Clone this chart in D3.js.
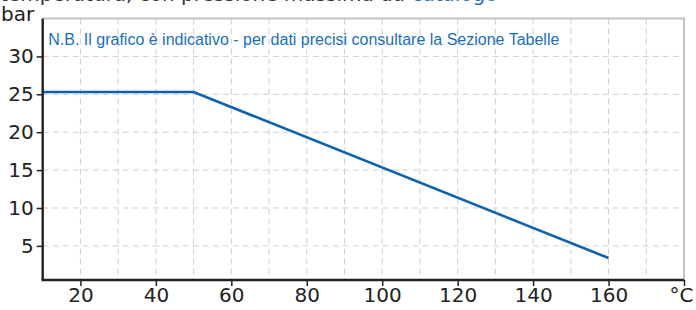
<!DOCTYPE html>
<html>
<head>
<meta charset="utf-8">
<script src="https://cdn.jsdelivr.net/npm/d3@7"></script>
<style>
  body { margin: 0; background: #fff; }
  svg { display: block; }
  .tick text { font-family: "DejaVu Sans", Verdana, sans-serif; font-size: 20px; fill: #222; }
</style>
</head>
<body>
<div id="chart"></div>
<script>
// temperature (°C) vs pressure (bar)
var temps = [10, 50, 160];
var pressures = [25.3, 25.3, 3.4];
var xTicks = [20, 40, 60, 80, 100, 120, 140, 160, 180];
var xTickLabels = ["20", "40", "60", "80", "100", "120", "140", "160", "°C"];
var yTicks = [5, 10, 15, 20, 25, 30];
var xGrid = [20, 30, 40, 50, 60, 70, 80, 90, 100, 110, 120, 130, 140, 150, 160, 170];
var noteText = "N.B. Il grafico è indicativo - per dati precisi consultare la Sezione Tabelle";

var W = 696, H = 310;
var margin = { top: 18.5, right: 12, bottom: 30, left: 42.7 };
var width = W - margin.left - margin.right,
  height = H - margin.top - margin.bottom;

var svg = d3.select("#chart").append("svg")
  .attr("width", W)
  .attr("height", H);

// cropped line of page text above the chart (only its lower edge shows)
var topLine = svg.append("text")
  .attr("x", 0)
  .attr("y", 0.5)
  .style("font-family", "DejaVu Sans, sans-serif")
  .style("font-size", "20px")
  .style("fill", "#333");
topLine.append("tspan").text("temperatura, con pressione massima da ");
topLine.append("tspan").style("fill", "#1a6fc0").text("catalogo");

var g = svg.append("g")
  .attr("transform", "translate(" + margin.left + "," + margin.top + ")");

var x = d3.scaleLinear().domain([10, 180]).range([0, width]);
var y = d3.scaleLinear().domain([0.5, 35]).range([height, 0]);

// grid
g.selectAll("line.vgrid").data(xGrid).enter().append("line")
  .attr("class", "vgrid")
  .attr("x1", function (d) { return x(d); })
  .attr("x2", function (d) { return x(d); })
  .attr("y1", 0).attr("y2", height)
  .attr("stroke", "#cfcfcf").attr("stroke-width", 1)
  .attr("stroke-dasharray", "6,4");

g.selectAll("line.hgrid").data(yTicks).enter().append("line")
  .attr("class", "hgrid")
  .attr("x1", 0).attr("x2", width)
  .attr("y1", function (d) { return y(d); })
  .attr("y2", function (d) { return y(d); })
  .attr("stroke", "#cfcfcf").attr("stroke-width", 1)
  .attr("stroke-dasharray", "6,4");

// frame top / right
g.append("path")
  .attr("d", "M0,0H" + width + "V" + height)
  .attr("fill", "none")
  .attr("stroke", "#c4c4c4")
  .attr("stroke-width", 2);

// note
g.append("text")
  .attr("x", 5.6)
  .attr("y", 26)
  .style("font-family", "Liberation Sans, Arial, sans-serif")
  .style("font-size", "16px")
  .style("fill", "#1a6fc0")
  .text(noteText);

// data line
var line = d3.line()
  .x(function (d, i) { return x(temps[i]); })
  .y(function (d) { return y(d); });

g.append("path")
  .datum(pressures)
  .attr("d", line)
  .attr("fill", "none")
  .attr("stroke", "#0b63b2")
  .attr("stroke-width", 2.6);

// axes
var yAxis = g.append("g")
  .call(d3.axisLeft(y).tickValues(yTicks).tickSize(6).tickPadding(3).tickSizeOuter(0));
var xAxis = g.append("g")
  .attr("transform", "translate(0," + height + ")")
  .call(d3.axisBottom(x).tickValues(xTicks).tickSize(6).tickPadding(2).tickSizeOuter(0)
    .tickFormat(function (d, i) { return xTickLabels[i]; }));

[yAxis, xAxis].forEach(function (a) {
  a.select(".domain").attr("stroke", "#222").attr("stroke-width", 2.4);
  a.selectAll(".tick line").attr("stroke", "#222").attr("stroke-width", 1.5);
});
yAxis.select(".domain").attr("d", "M0,0V" + height);
xAxis.select(".domain").attr("d", "M-1.2,0H" + width);
// unit label sits just left of the last tick
xAxis.selectAll(".tick text").filter(function (d) { return d === 180; })
  .attr("dx", -3);

// unit label
svg.append("text")
  .attr("x", 1)
  .attr("y", 21)
  .style("font-family", "DejaVu Sans, sans-serif")
  .style("font-size", "20px")
  .style("fill", "#222")
  .text("bar");
</script>
</body>
</html>
